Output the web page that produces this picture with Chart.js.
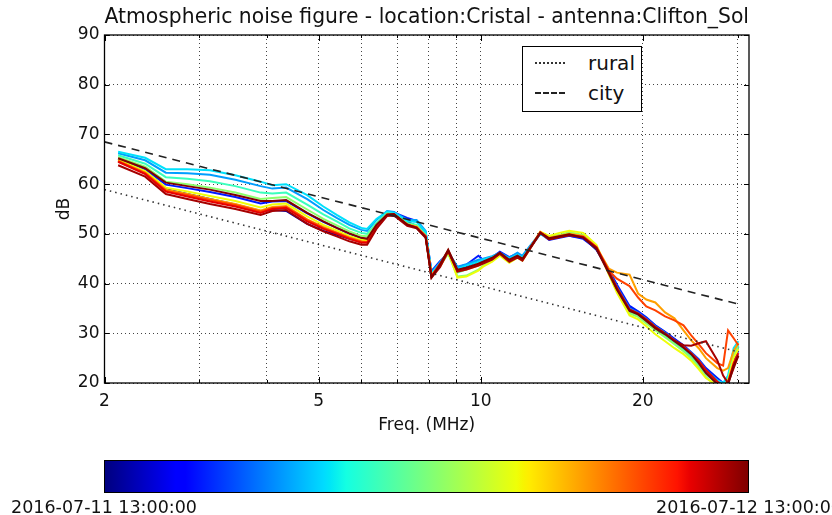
<!DOCTYPE html>
<html>
<head>
<meta charset="utf-8">
<script src="https://cdn.jsdelivr.net/npm/chart.js@4.4.1/dist/chart.umd.min.js"></script>
<style>
  body { margin: 0; background: #fff; font-family: "DejaVu Sans", sans-serif; }
  #wrap { position: relative; width: 832px; height: 515px; overflow: hidden; }
  #legend { position: absolute; left: 522px; top: 46px; width: 120px; height: 66px; box-sizing: border-box;
            border: 1.5px solid #000; background: #fff; }
  .row { position: absolute; left: 0; width: 100%; height: 24px; }
  .sample { position: absolute; left: 12px; width: 30px; top: 11px; }
  .row span { position: absolute; left: 65px; top: 0; font-size: 20px; line-height: 24px; color: #111; }
  #cbar { position: absolute; left: 104px; top: 460px; width: 645px; height: 33px; box-sizing: border-box;
          border: 1px solid #000;
          background: linear-gradient(to right, #00007f 0%, #0000ff 11%, #0000ff 12.5%, #00dbff 34%,
                      #00e6f7 35%, #14ffe2 37.5%, #eeff08 64%, #f7f500 65%, #ffec00 66%, #ff1300 89%,
                      #e80000 91%, #7f0000 100%); }
  .cblab { position: absolute; top: 497px; font-size: 17.5px; line-height: 20px; white-space: nowrap;
           transform: translateX(-50%); color: #111; }
</style>
</head>
<body>
<div id="wrap">
  <canvas id="chart" width="832" height="515"></canvas>
  <div id="legend">
    <div class="row" style="top:4px"><div class="sample" style="border-top:2px dotted #333"></div><span>rural</span></div>
    <div class="row" style="top:34px"><div class="sample" style="border-top:2px dashed #222"></div><span>city</span></div>
  </div>
  <div id="cbar"></div>
  <div class="cblab" style="left:104px">2016-07-11 13:00:00</div>
  <div class="cblab" style="left:749px">2016-07-12 13:00:00</div>
</div>
<script>
// frequencies (MHz) of the measured points
const freqs = [2.12, 2.38, 2.6, 2.85, 3.14, 3.5, 3.9, 4.1, 4.35, 4.76, 5.1, 5.4, 5.7, 6.0, 6.15, 6.4,
  6.7, 6.9, 7.3, 7.6, 7.9, 8.1, 8.4, 8.7, 9.05, 9.4, 9.9, 10.1, 10.5, 10.85, 11.3, 11.7, 11.95, 12.9, 13.4, 14.0,
  14.6, 15.5, 16.4, 17.3, 17.9, 18.9, 19.6, 20.3, 21.1, 22.0, 22.9, 23.8, 24.6, 25.4, 26.2, 27.5, 28.2, 28.8, 29.5, 30.1];

// measurement times, one curve each
const times = ["13:00", "15:00", "17:00", "19:00", "21:00", "23:00", "01:00", "03:00", "05:00", "07:00", "10:00", "13:00"];

const s00 = [64.7, 62.4, 59.0, 58.0, 57.0, 55.9, 54.6, 54.8, 54.6, 52.0, 50.6, 49.8, 49.0, 48.5, 48.5, 51.4,
  53.9, 53.6, 52.4, 51.6, 49.8, 41.8, 44.0, 46.3, 43.0, 43.5, 44.5, 44.5, 45.0, 45.8, 44.8, 45.6, 45.2, 50.0, 49.2, 49.5,
  49.6, 49.2, 46.8, 42.6, 39.4, 35.2, 34.3, 33.0, 31.5, 30.2, 28.8, 27.4, 26.0, 24.6, 22.8, 20.5, 19.6, 20.2, 24.8, 26.5];
const s01 = [65.1, 63.0, 59.9, 59.2, 58.4, 57.4, 56.1, 56.5, 56.6, 54.1, 52.4, 51.2, 50.0, 49.1, 49.0, 51.7,
  54.2, 54.3, 53.2, 52.6, 50.2, 42.5, 44.5, 46.0, 43.3, 43.8, 45.6, 44.8, 45.3, 46.4, 45.3, 46.0, 45.4, 50.1, 48.8, 49.2,
  49.6, 49.0, 47.0, 42.8, 39.8, 35.5, 34.4, 33.2, 31.6, 30.3, 28.9, 27.6, 26.2, 24.8, 23.0, 21.0, 20.0, 20.6, 25.0, 27.2];
const s02 = [66.2, 64.8, 62.3, 62.2, 61.9, 60.9, 59.6, 59.1, 59.3, 57.0, 54.8, 53.2, 51.8, 50.8, 50.6, 52.8,
  54.6, 54.4, 52.8, 52.8, 50.6, 42.3, 44.2, 46.4, 43.4, 43.9, 44.8, 45.0, 45.5, 46.2, 45.2, 46.2, 45.6, 50.2, 49.1, 49.6,
  50.0, 49.3, 47.1, 42.5, 39.3, 35.0, 34.1, 32.9, 31.4, 30.1, 28.6, 27.3, 26.1, 24.6, 22.6, 20.6, 19.8, 21.0, 25.5, 27.4];
const s03 = [66.5, 65.3, 63.0, 63.0, 62.8, 61.8, 60.5, 59.8, 60.0, 57.8, 55.5, 53.8, 52.3, 51.2, 51.0, 53.0,
  54.5, 54.2, 52.6, 52.4, 50.4, 42.0, 44.2, 46.2, 43.0, 43.6, 44.4, 44.8, 45.4, 46.0, 45.0, 45.8, 45.2, 50.0, 49.0, 49.5,
  49.9, 49.4, 47.2, 42.4, 39.0, 34.6, 33.8, 32.4, 31.0, 29.6, 28.2, 26.8, 25.5, 24.0, 22.2, 20.5, 20.0, 21.5, 27.0, 28.4];
const s04 = [65.8, 64.1, 61.4, 61.1, 60.6, 59.6, 58.3, 58.1, 58.3, 55.9, 53.9, 52.5, 51.1, 50.2, 50.0, 52.2,
  54.2, 54.0, 52.2, 51.8, 49.9, 41.8, 43.8, 46.2, 42.2, 42.8, 43.9, 44.3, 45.1, 46.0, 44.7, 45.5, 45.0, 50.2, 49.2, 49.6,
  50.1, 49.6, 47.5, 42.2, 38.8, 34.4, 33.6, 32.2, 30.8, 29.4, 28.0, 26.6, 25.2, 23.6, 21.8, 19.8, 19.2, 20.8, 26.0, 27.8];
const s05 = [65.4, 63.5, 60.5, 60.0, 59.3, 58.3, 57.0, 57.2, 57.4, 54.9, 53.0, 51.7, 50.5, 49.6, 49.5, 51.9,
  54.0, 53.8, 52.0, 51.6, 49.6, 41.6, 43.6, 46.0, 41.4, 41.6, 42.8, 43.6, 44.6, 45.8, 44.4, 45.3, 44.8, 50.3, 49.4, 49.8,
  50.3, 49.8, 47.6, 42.0, 38.6, 34.0, 33.3, 32.0, 30.6, 29.2, 27.8, 26.4, 25.0, 23.2, 21.2, 19.2, 18.8, 20.4, 25.6, 27.2];
const s06 = [64.9, 62.6, 59.3, 58.5, 57.6, 56.6, 55.3, 55.9, 56.1, 53.5, 51.8, 50.7, 49.6, 48.8, 48.7, 51.5,
  53.8, 53.8, 51.8, 51.4, 49.4, 41.8, 43.4, 46.4, 41.2, 41.4, 42.6, 43.4, 44.4, 45.6, 44.2, 45.2, 44.6, 50.4, 49.6, 50.2,
  50.6, 50.2, 47.8, 41.8, 38.2, 33.6, 32.8, 31.4, 29.8, 28.4, 27.0, 25.8, 24.5, 22.8, 21.0, 19.5, 19.2, 20.5, 25.0, 26.8];
const s07 = [64.7, 62.3, 58.9, 58.0, 57.0, 56.0, 54.7, 55.4, 55.6, 52.9, 51.4, 50.3, 49.3, 48.5, 48.4, 51.3,
  53.9, 53.9, 51.9, 51.4, 49.5, 41.4, 43.6, 46.7, 42.4, 42.8, 43.6, 44.1, 44.9, 46.0, 44.6, 45.4, 44.8, 50.4, 49.2, 49.6,
  50.0, 49.6, 47.4, 43.0, 42.2, 41.8, 38.0, 36.8, 36.2, 34.2, 33.0, 30.6, 28.6, 27.0, 25.0, 23.0, 22.5, 23.0, 26.5, 28.0];
const s08 = [64.6, 62.2, 58.7, 57.8, 56.8, 55.8, 54.5, 55.2, 55.4, 52.8, 51.2, 50.2, 49.2, 48.4, 48.3, 51.3,
  53.8, 53.9, 51.8, 51.3, 49.5, 41.5, 43.5, 46.6, 42.6, 43.0, 43.8, 44.2, 45.0, 46.1, 44.6, 45.4, 44.8, 50.3, 49.0, 49.4,
  49.8, 49.4, 47.3, 42.6, 41.0, 39.5, 37.2, 35.4, 34.6, 33.4, 32.6, 31.6, 29.6, 27.8, 26.0, 24.0, 23.5, 30.6, 29.0, 27.6];
const s09 = [64.5, 62.0, 58.5, 57.5, 56.5, 55.5, 54.2, 55.0, 55.2, 52.5, 51.0, 50.0, 49.0, 48.2, 48.2, 51.2,
  53.8, 53.9, 51.8, 51.3, 49.5, 41.5, 44.0, 46.6, 42.6, 43.0, 43.8, 44.2, 45.0, 46.1, 44.6, 45.4, 44.8, 50.3, 49.0, 49.4,
  49.8, 49.4, 47.3, 42.4, 39.2, 34.8, 34.0, 32.8, 31.3, 30.0, 28.6, 27.3, 26.0, 24.5, 22.6, 20.3, 19.5, 20.2, 24.0, 26.0];
const s10 = [63.8, 61.5, 58.0, 57.0, 56.0, 55.0, 53.8, 54.6, 54.8, 52.0, 50.5, 49.5, 48.5, 47.8, 47.8, 51.0,
  53.6, 53.7, 51.6, 51.1, 49.2, 41.2, 43.3, 46.5, 42.4, 42.8, 43.6, 44.0, 44.8, 46.0, 44.4, 45.2, 44.6, 50.2, 48.9, 49.3,
  49.7, 49.3, 47.2, 42.3, 39.0, 34.7, 33.9, 32.6, 31.2, 29.9, 28.5, 27.6, 27.5, 28.0, 28.4, 24.6, 21.5, 20.0, 23.0, 25.5];
const s11 = [65.2, 63.2, 60.3, 59.6, 58.9, 57.8, 56.6, 56.6, 56.8, 54.2, 52.5, 51.2, 50.1, 49.2, 49.0, 51.8,
  53.9, 54.0, 51.9, 51.2, 49.3, 41.2, 43.8, 46.8, 42.8, 43.2, 44.0, 44.4, 45.2, 46.2, 44.8, 45.6, 45.0, 50.2, 49.1, 49.5,
  49.9, 49.2, 47.0, 42.0, 38.8, 34.5, 33.8, 32.5, 31.0, 29.8, 28.4, 27.1, 25.8, 24.0, 22.0, 19.8, 19.0, 19.6, 23.5, 25.5];
const series = [s00, s01, s02, s03, s04, s05, s06, s07, s08, s09, s10, s11];

// reference noise levels, straight lines on the log axis
const refFreqs = [2, 30];
const rural = [58.9, 26.3];
const city = [68.5, 35.9];

const yTicks = [20, 30, 40, 50, 60, 70, 80, 90];
const xGrid = [2, 3, 4, 5, 6, 7, 8, 9, 10, 20, 30];
const xLabels = [2, 5, 10, 20];

// jet colours by time
const colors = ["#0000a2", "#001aff", "#009eff", "#00e0fb", "#3affbd", "#8cff6b",
  "#eeff08", "#ffa000", "#ff4200", "#e80000", "#a60000", "#800000"];

const font = "DejaVu Sans";

const datasets = series.map((vals, i) => ({
  label: times[i],
  data: vals.map((v, j) => ({ x: freqs[j], y: v })),
  borderColor: colors[i],
  borderWidth: 2,
  pointRadius: 0,
  tension: 0,
  order: series.length - i
}));
datasets.push({
  label: "rural", data: rural.map((v, j) => ({ x: refFreqs[j], y: v })),
  borderColor: "#333", borderWidth: 1.6, borderDash: [1.5, 4], pointRadius: 0, order: 0
});
datasets.push({
  label: "city", data: city.map((v, j) => ({ x: refFreqs[j], y: v })),
  borderColor: "#222", borderWidth: 1.6, borderDash: [8, 6], pointRadius: 0, order: 0
});

const frame = {
  id: "frame",
  afterDatasetsDraw(chart) {
    const { ctx, chartArea: a, scales } = chart;
    ctx.save();
    ctx.strokeStyle = "#000";
    ctx.lineWidth = 1;
    ctx.beginPath();
    yTicks.forEach(v => {
      const y = Math.round(scales.y.getPixelForValue(v)) + 0.5;
      ctx.moveTo(a.left, y); ctx.lineTo(a.left + 5, y);
      ctx.moveTo(a.right, y); ctx.lineTo(a.right - 5, y);
    });
    xGrid.forEach(v => {
      const x = Math.round(scales.x.getPixelForValue(v)) + 0.5;
      const len = xLabels.includes(v) ? 6 : 3;
      ctx.moveTo(x, a.bottom); ctx.lineTo(x, a.bottom - len);
      ctx.moveTo(x, a.top); ctx.lineTo(x, a.top + len);
    });
    ctx.stroke();
    ctx.lineWidth = 1.3;
    ctx.strokeRect(a.left, a.top, a.right - a.left, a.bottom - a.top);
    ctx.restore();
  }
};

new Chart(document.getElementById("chart"), {
  type: "line",
  data: { datasets },
  options: {
    responsive: false,
    animation: false,
    devicePixelRatio: 1,
    layout: { padding: { left: 50, right: 83, top: 0, bottom: 75 } },
    plugins: {
      legend: { display: false },
      tooltip: { enabled: false },
      title: {
        display: true, fullSize: false,
        text: "Atmospheric noise figure - location:Cristal - antenna:Clifton_Sol",
        color: "#111", font: { family: font, size: 20.5, weight: "normal" },
        padding: { top: 5, bottom: 5.4 }
      }
    },
    scales: {
      x: {
        type: "logarithmic", min: 2, max: 31.5,
        afterBuildTicks: s => { s.ticks = xGrid.map(v => ({ value: v })); },
        afterFit: s => { s.height = 57; },
        ticks: {
          autoSkip: false, maxRotation: 0, padding: 8, color: "#111",
          font: { family: font, size: 17 },
          callback: v => xLabels.includes(v) ? String(v) : ""
        },
        grid: { color: "#444", drawTicks: false },
        border: { display: false, dash: [1, 3] },
        title: { display: true, text: "Freq. (MHz)", color: "#111", font: { family: font, size: 17 } }
      },
      y: {
        min: 20, max: 90,
        afterBuildTicks: s => { s.ticks = yTicks.map(v => ({ value: v })); },
        afterFit: s => { s.width = 54.5; },
        ticks: { padding: 5, color: "#111", font: { family: font, size: 17 } },
        grid: { color: "#444", drawTicks: false },
        border: { display: false, dash: [1, 3] },
        title: { display: true, text: "dB", color: "#111", font: { family: font, size: 17 }, padding: { top: 4, bottom: 4 } }
      }
    }
  },
  plugins: [frame]
});
</script>
</body>
</html>
